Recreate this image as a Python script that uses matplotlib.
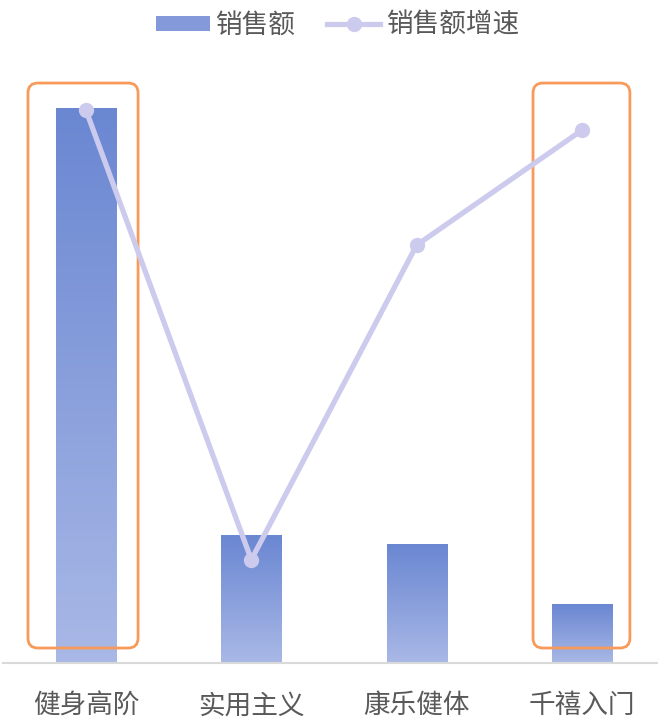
import numpy as np
import matplotlib
matplotlib.use('Agg')
import matplotlib.pyplot as plt
from matplotlib.patches import FancyBboxPatch, Patch
from matplotlib.lines import Line2D
from matplotlib.colors import LinearSegmentedColormap

plt.rcParams['font.family'] = ['Noto Sans CJK SC', 'DejaVu Sans']

### 데이터
categories = ['健身高阶', '实用主义', '康乐健体', '千禧入门']
sales = [100.0, 22.9, 21.4, 10.6]          # 销售额 (相对值)
growth = [99.6, 18.6, 75.3, 96.0]          # 销售额增速 (相对值)
highlight = [0, 3]                          # 橙色框

bar_top = '#6a87d2'
bar_bottom = '#a9b8e6'
line_color = '#cccbee'
box_color = '#f79a5a'
text_color = '#595959'

fig = plt.figure(figsize=(6.58, 7.22), dpi=100)
ax = fig.add_axes([3 / 658, 59 / 722, 655 / 658, 593 / 722])

cmap = LinearSegmentedColormap.from_list('bar', [bar_bottom, bar_top])
grad = np.linspace(0, 1, 256).reshape(-1, 1)
width = 0.363
for i, v in enumerate(sales):
    ax.imshow(grad, cmap=cmap, origin='lower', aspect='auto',
              extent=[i - width / 2, i + width / 2, 0, v], zorder=2)

# 하이라이트 박스
box_spans = {0: (-0.351, 0.315), 3: (2.704, 3.290)}
for i in highlight:
    x0, x1 = box_spans[i]
    box = FancyBboxPatch((x0, 2.7), x1 - x0, 104.5 - 2.7,
                         boxstyle='round,pad=0,rounding_size=0.06',
                         mutation_aspect=30, fill=False,
                         edgecolor=box_color, linewidth=2, zorder=3)
    ax.add_patch(box)

x = np.arange(len(categories))
ax.plot(x, growth, color=line_color, linewidth=3.8, marker='o',
        markersize=10, zorder=4)

ax.set_xlim(-0.502, 3.46)
ax.set_ylim(0, 106.85)
ax.set_xticks(x)
ax.set_xticklabels(categories, fontsize=19.2, color=text_color)
ax.tick_params(axis='x', length=0, pad=21)
ax.set_yticks([])
for s in ['top', 'right', 'left']:
    ax.spines[s].set_visible(False)
ax.spines['bottom'].set_color('#d9d9d9')
ax.spines['bottom'].set_linewidth(1.5)

handles = [Patch(facecolor='#8499d9', edgecolor='none'),
           Line2D([], [], color=line_color, linewidth=3.8, marker='o', markersize=10)]
fig.legend(handles, ['销售额', '销售额增速'], loc='upper center',
           bbox_to_anchor=(0.513, 1.017), ncol=2, frameon=False,
           fontsize=19.2, labelcolor=text_color, handlelength=2.0,
           handleheight=0.5, handletextpad=0.2, columnspacing=1.2)

fig.savefig('out.png', dpi=100)
